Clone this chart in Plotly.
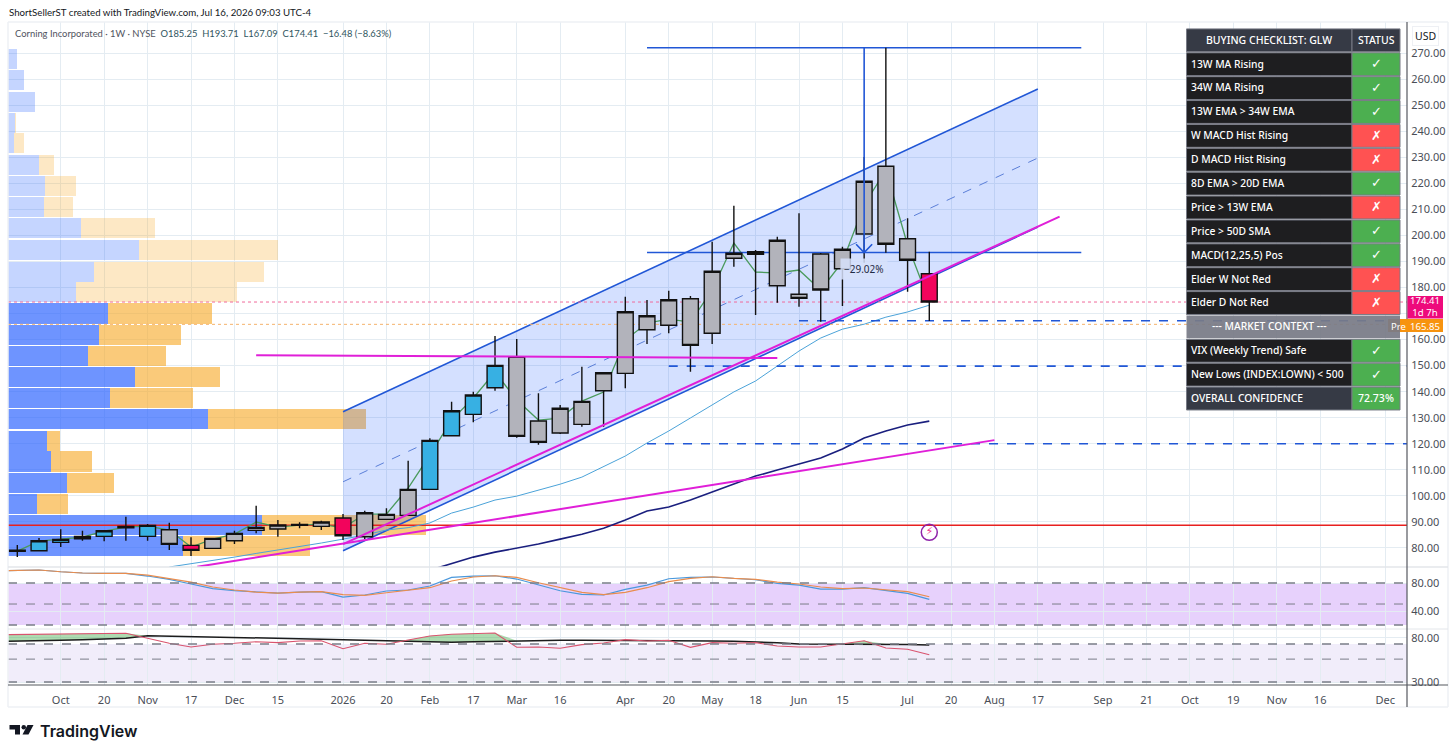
import plotly.graph_objects as go

# Weekly bars
week_dates = ["2025-09-22","2025-09-29","2025-10-06","2025-10-13","2025-10-20","2025-10-27","2025-11-03","2025-11-10",
              "2025-11-17","2025-11-24","2025-12-01","2025-12-08","2025-12-15","2025-12-22","2025-12-29","2026-01-05",
              "2026-01-12","2026-01-19","2026-01-26","2026-02-02","2026-02-09","2026-02-16","2026-02-23","2026-03-02",
              "2026-03-09","2026-03-16","2026-03-23","2026-03-30","2026-04-06","2026-04-13","2026-04-20","2026-04-27",
              "2026-05-04","2026-05-11","2026-05-18","2026-05-25","2026-06-01","2026-06-08","2026-06-15","2026-06-22",
              "2026-06-29","2026-07-06","2026-07-13"]
week_open = [78.74,78.94,82.16,83.54,84.46,88.31,84.46,86.99,81.0,79.85,82.78,86.77,87.26,89.07,88.31,91.49,
             84.31,90.99,92.52,102.51,123.09,131.3,141.51,153.18,128.73,124.12,127.46,140.36,147.04,163.78,165.47,
             175.68,162.4,191.19,193.73,180.67,177.37,192.84,187.2,200.52,226.51,198.71,185.25]
week_high = [81.12,83.82,87.15,86.61,86.88,92.0,89.19,89.68,84.08,83.8,86.61,96.21,90.72,89.84,90.46,93.02,
             94.29,95.21,113.49,122.09,136.14,139.98,161.36,160.21,139.36,134.87,149.57,147.54,176.45,175.18,178.75,
             176.72,197.56,211.38,194.38,199.48,208.46,193.22,195.64,230.08,272.04,206.55,193.71]
week_low = [76.52,78.82,80.36,82.78,82.55,82.78,82.78,79.2,76.9,79.6,81.5,85.61,84.31,87.53,86.88,83.04,
            83.42,90.72,92.52,102.51,123.09,128.23,140.36,122.32,119.63,123.74,126.54,126.54,141.28,158.29,162.39,
            147.65,158.29,187.96,169.42,174.15,172.61,166.85,172.88,189.5,193.34,178.36,167.09]
week_close = [79.13,82.78,83.31,84.46,86.61,87.76,88.69,81.39,79.09,83.69,85.61,87.92,88.81,88.69,89.95,84.69,
              93.53,92.91,102.51,121.32,132.68,138.71,150.11,122.86,120.55,133.61,136.29,147.27,170.69,169.16,175.3,
              157.79,186.2,193.11,192.73,198.1,175.83,179.02,194.65,220.75,196.56,190.42,174.41]
week_color = ["g","b","b","b","b","r","b","g","r","g","g","g","g","r","g","r",
              "g","g","g","b","b","b","b","g","g","g","g","g","g","g","g",
              "g","g","g","g","g","g","g","g","g","g","g","r"]
close_line = [78.82,82.66,83.43,84.2,86.5,88.03,88.42,86.88,80.35,83.43,85.35,89.95,88.03,88.8,89.18,87.65,
              93.03,93.03,103.01,115.68,129.11,137.56,147.54,136.79,129.11,129.88,136.41,139.86,159.82,166.35,167.88,
              166.73,179.02,197.06,185.93,185.55,186.7,179.02,189.77,211.65,225.09,196.3,174.41]
ma_light = [72.7,73.9,75.3,76.5,77.9,79.2,80.4,81.9,83.4,84.96,86.9,87.8,89.6,93.4,95.7,98.4,99.9,102.2,
            104.5,107.2,111.1,115.3,120.3,124.9,129.9,134.9,139.9,144.1,149.8,155.6,160.6,164,165.9,168.6,170.6,173.2]
ma_navy = [71.5,74,76.5,78.4,80,81.5,83.4,85.3,87.6,90.7,94.2,95.7,98.4,101.5,104.5,107.6,109.9,112.2,114.5,
           118,122.2,124.9,127.2,128.7]

# Volume profile, top row first
vp_price = [267.7,259.6,251.2,243.3,235.3,227,218.9,210.9,202.8,194.4,186.1,178.25,170,161.9,153.7,145.6,137.6,
            129.5,121,113.2,104.9,96.9,88.8,80.7]
vp_up = [9.3,16,27,7,6,31,37,36,73,131,86,68,100,91,80,127,102,200,39,43,59,29,254,175]
vp_down = [0,0,0,1,10,15,31,29,74,139,170,161,104,82,78,85,83,158,13,41,47,31,164,127]
vp_in_area = [False]*12 + [True]*12

# Drawings
channel_dates = ["2026-01-05","2026-08-17"]
channel_top = [132.3,256.2]
channel_mid = [105.4,229.7]
channel_bot = [78.9,203.2]
magenta_flat_dates = ["2025-12-08","2026-05-25"]
magenta_flat = [154.0,152.9]
magenta_upper_dates = ["2026-01-05","2026-08-24"]
magenta_upper = [81.5,207.2]
magenta_lower_dates = ["2025-11-19","2026-08-03"]
magenta_lower = [72.8,121.4]
measure_date = "2026-06-22"
measure_top = 272.04
measure_bottom = 193.4
measure_left_date = "2026-04-13"
measure_right_date = "2026-08-31"
dash_levels = [(167.2,"2026-06-01"),(149.8,"2026-04-20"),(120.0,"2026-04-13")]
red_level = 88.7
last_price = 174.41
pre_price = 165.85

# Lower panes
ind_dates = ["2025-09-15"] + week_dates
stoch_blue = [97.5,97.6,98.6,96.1,94.3,93.9,93.9,90,85.3,78.6,71.9,69,67.1,65.7,67.1,67.6,60,62.9,68.6,70,75.7,88.1,90,
              90.4,85.7,77.1,69,63.9,62.9,71,77.1,86.1,88.1,88.6,86.7,84.7,79.6,77.1,71.4,71.4,73.3,69.6,65.3,56.7]
stoch_orange = [97.5,97.6,98.6,96.1,94.3,93.9,93.9,91.4,86.7,81.4,74.3,70,67.1,65.7,67.1,67.6,63.3,62.4,66.1,70,73.3,82.9,88.6,
                90.4,88.1,80.4,73.9,66.7,63.3,66.7,73.3,81.9,86.7,89,86.7,85.3,81.4,78.6,74.3,71.9,72.9,70,67.6,60.4]
stoch_levels = [80,50,20]
slow_black = [76.0,76.25,76.7,77.4,78.1,78.9,79.7,82.6,82,81.5,80.8,80.5,80,79.7,79.2,78.6,78.1,77.4,76.9,76.3,75.8,75.1,75.7,76.3,
              76.9,77.4,77.4,77.4,77.4,77.4,77.4,77.4,76.9,76.6,76.3,75.8,74.5,73.2,73.2,73.2,73.2,73.2,72.6,72]
slow_red = [83.7,84,84.9,84.8,85,85.2,85.3,79.7,74,69.8,72.8,74,75.8,74.7,76.6,76.9,67.8,74,72.8,77.7,82.3,84.2,85.3,85.7,
            69.4,69.8,68.3,72.4,74.3,78.1,76.6,77.4,69.4,74.7,74,74.7,70.9,69.8,69.8,73.2,76.9,68.6,67.2,61]
slow_levels = [73.2,56,30]

# Axis labels, 170 is hidden behind the price tag
price_ticks = [80,90,100,110,120,130,140,150,160,170,180,190,200,210,220,230,240,250,260,270]
price_labels = ["80.00","90.00","100.00","110.00","120.00","130.00","140.00","150.00","160.00","",
                "180.00","190.00","200.00","210.00","220.00","230.00","240.00","250.00","260.00","270.00"]
date_tickvals = ["2025-10-06","2025-10-20","2025-11-03","2025-11-17","2025-12-01","2025-12-15","2026-01-05","2026-01-19",
                 "2026-02-02","2026-02-16","2026-03-02","2026-03-16","2026-04-06","2026-04-20","2026-05-04","2026-05-18",
                 "2026-06-01","2026-06-15","2026-07-06","2026-07-20","2026-08-03","2026-08-17","2026-09-07","2026-09-21",
                 "2026-10-05","2026-10-19","2026-11-02","2026-11-16","2026-12-07"]
date_ticktext = ["Oct","20","Nov","17","Dec","15","2026","20","Feb","17","Mar","16","Apr","20","May","18","Jun","15",
                 "Jul","20","Aug","17","Sep","21","Oct","19","Nov","16","Dec"]
date_range = ["2025-09-19","2026-12-14"]

# Checklist table
table_labels = ["13W MA Rising","34W MA Rising","13W EMA > 34W EMA","W MACD Hist Rising","D MACD Hist Rising",
                "8D EMA > 20D EMA","Price > 13W EMA","Price > 50D SMA","MACD(12,25,5) Pos","Elder W Not Red",
                "Elder D Not Red","--- MARKET CONTEXT ---","VIX (Weekly Trend) Safe","New Lows (INDEX:LOWN) < 500",
                "OVERALL CONFIDENCE"]
table_status = ["✓","✓","✓","✗","✗","✓","✗","✓","✓","✗","✗","","✓","✓","72.73%"]

W, H = 1456, 755
PLOT_L, PLOT_R = 8, 1407
def px(x): return x/W
def py(y): return 1-y/H

GREEN, RED, DARK, NAVY, GREY = "#4CAF50", "#FF5252", "#1E1E20", "#363A45", "#787B86"
BLUE = "#2157d6"
FONT = "Noto Sans"

fig = go.Figure()

# volume profile sits on the base axis so everything else draws above it
up_colors = ["rgba(41,98,255,0.68)" if a else "rgba(41,98,255,0.27)" for a in vp_in_area]
down_colors = ["rgba(247,170,40,0.62)" if a else "rgba(247,170,40,0.27)" for a in vp_in_area]
fig.add_trace(go.Bar(y=vp_price, x=vp_up, orientation="h", width=7.7, marker=dict(color=up_colors, line_width=0),
                     xaxis="x", yaxis="y"))
fig.add_trace(go.Bar(y=vp_price, x=vp_down, orientation="h", width=7.7, marker=dict(color=down_colors, line_width=0),
                     xaxis="x", yaxis="y"))

def line(x, y, color, width=1, dash="solid", **kw):
    fig.add_trace(go.Scatter(x=x, y=y, mode="lines", line=dict(color=color, width=width, dash=dash),
                             xaxis=kw.pop("xaxis","x2"), yaxis=kw.pop("yaxis","y"), **kw))

# below the candles
line(channel_dates, channel_bot, BLUE, 1.6)
line(channel_dates, channel_top, BLUE, 1.6, fill="tonexty", fillcolor="rgba(41,98,255,0.2)")
line(channel_dates, channel_mid, "#5b7fd8", 1, "dash")

line(date_range, [pre_price,pre_price], "#f5b26b", 1, "dot")
line(date_range, [last_price,last_price], "#f06a9b", 1, "dot")
line(date_range, [red_level,red_level], "#e8201f", 1.6)
line(week_dates[7:], ma_light, "#4ba3d9", 1)
line(week_dates[19:], ma_navy, "#1a1f7e", 1.6)
line(week_dates, close_line, "#4a9a5c", 1.3)
line([measure_left_date,measure_right_date], [measure_top,measure_top], BLUE, 1.6)
line([measure_left_date,measure_right_date], [measure_bottom,measure_bottom], BLUE, 1.6)
for level, start in dash_levels:
    line([start,date_range[1]], [level,level], BLUE, 1.6, "dash")

# candles, one trace per bar colour, on their own overlay so they cover the lines above
for key, col in (("g","#B2B3BB"),("b","#37B0E3"),("r","#F2045C")):
    idx = [i for i,c in enumerate(week_color) if c==key]
    fig.add_trace(go.Candlestick(
        x=[week_dates[i] for i in idx], open=[week_open[i] for i in idx], high=[week_high[i] for i in idx],
        low=[week_low[i] for i in idx], close=[week_close[i] for i in idx],
        increasing=dict(fillcolor=col, line=dict(color="#111111", width=1.4)),
        decreasing=dict(fillcolor=col, line=dict(color="#111111", width=1.4)),
        whiskerwidth=0, xaxis="x5", yaxis="y"))

line(magenta_flat_dates, magenta_flat, "#e01fd8", 2, xaxis="x5")
line(magenta_upper_dates, magenta_upper, "#e01fd8", 2, xaxis="x5")
line(magenta_lower_dates, magenta_lower, "#e01fd8", 2, xaxis="x5")
line([measure_date,measure_date], [measure_top,measure_bottom], BLUE, 1.6, xaxis="x5")
line(["2026-06-19 10:00",measure_date,"2026-06-24 14:00"], [196.6,measure_bottom,196.6], BLUE, 1.6, xaxis="x5")

# flash icon
fig.add_trace(go.Scatter(x=["2026-07-13"], y=[86.0], mode="markers+text", text=["⚡"], textposition="middle center",
                         textfont=dict(color="#ec2f8c", size=11, family="DejaVu Sans"),
                         marker=dict(size=16, color="rgba(255,255,255,0)", line=dict(color="#8e24aa", width=1.5)),
                         xaxis="x5", yaxis="y"))

# stochastic pane
line(ind_dates, stoch_blue, "#4a98dc", 1.2, xaxis="x3", yaxis="y2")
line(ind_dates, stoch_orange, "#e98d4e", 1.2, xaxis="x3", yaxis="y2")

# slow pane, green where red runs over black
slow_upper = [max(a,b) for a,b in zip(slow_red, slow_black)]
line(ind_dates, slow_black, "rgba(0,0,0,0)", 0.1, xaxis="x4", yaxis="y3")
fig.add_trace(go.Scatter(x=ind_dates, y=slow_upper, mode="lines", line=dict(color="rgba(0,0,0,0)", width=0.1),
                         fill="tonexty", fillcolor="rgba(76,175,80,0.45)", xaxis="x4", yaxis="y3"))
line(ind_dates, slow_black, "#1c1c1c", 1.5, xaxis="x4", yaxis="y3")
line(ind_dates, slow_red, "#d9536e", 1.1, xaxis="x4", yaxis="y3")

date_axis = dict(type="date", range=date_range, tickmode="array", tickvals=date_tickvals, showgrid=True,
                 gridcolor="#e4ecf2", gridwidth=1, zeroline=False, showline=False,
                 rangeslider=dict(visible=False), domain=[px(PLOT_L),px(PLOT_R)])

axis_font = dict(size=11, color="#4a4e57", family=FONT)
y_common = dict(side="right", showgrid=True, gridcolor="#e4ecf2", zeroline=False, showline=False, tickmode="array",
                ticks="outside", ticklen=1, tickcolor="rgba(0,0,0,0)", tickfont=axis_font, tickformat=".2f")

shapes = []
# band and level lines of the two lower panes
for y0,y1,col,yr in ((stoch_levels[2],stoch_levels[0],"rgba(176,102,245,0.3)","y2"),
                     (slow_levels[2],slow_levels[0],"rgba(149,117,220,0.13)","y3")):
    shapes.append(dict(type="rect", xref="paper", x0=px(PLOT_L), x1=px(PLOT_R), yref=yr, y0=y0, y1=y1,
                       fillcolor=col, line_width=0, layer="below"))
for levels,yr in ((stoch_levels,"y2"),(slow_levels,"y3")):
    for i,level in enumerate(levels):
        shapes.append(dict(type="line", xref="paper", x0=px(PLOT_L), x1=px(PLOT_R), yref=yr, y0=level, y1=level,
                           line=dict(color="#7a7d88", width=1.4 if i!=1 else 1, dash="dash")))
# pane frames
def rule(x0,y0,x1,y1,color,width=1):
    shapes.append(dict(type="line", xref="paper", yref="paper", x0=px(x0), x1=px(x1), y0=py(y0), y1=py(y1),
                       line=dict(color=color, width=width)))
rule(8,22,1448,22,"#eef0f4",1.5)
rule(8,22,8,707,"#eef0f4",1.5)
rule(8,707,1448,707,"#eef0f4",1.5)
rule(1448,22,1448,707,"#eef0f4",1.5)
rule(8,567,1448,567,"#e3e6ea",1.5)
rule(8,629,1448,629,"#e3e6ea",1)
rule(8,685,1448,685,"#55585f",1.2)
rule(1407,22,1407,707,"#55585f",1.2)

def box(x0,y0,x1,y1,fill,border=None):
    shapes.append(dict(type="rect", xref="paper", yref="paper", x0=px(x0), x1=px(x1), y0=py(y0), y1=py(y1),
                       fillcolor=fill, line=dict(color=border or fill, width=1 if border else 0)))

# TradingView logo
shapes.append(dict(type="path", xref="paper", yref="paper", line_width=0, fillcolor="#131722",
                   path="M %f %f L %f %f L %f %f L %f %f L %f %f L %f %f Z" % (px(9.5),py(725),px(20),py(725),px(20),py(734.5),
                                                                          px(15),py(734.5),px(15),py(729.5),px(9.5),py(729.5))))
shapes.append(dict(type="path", xref="paper", yref="paper", line_width=0, fillcolor="#131722",
                   path="M %f %f L %f %f L %f %f L %f %f Z" % (px(27.5),py(725),px(33.5),py(725),px(28.5),py(734.5),px(22.5),py(734.5))))
shapes.append(dict(type="circle", xref="paper", yref="paper", line_width=0, fillcolor="#131722",
                   x0=px(21.5), x1=px(26), y0=py(729.5), y1=py(725)))

def note(x, y, text, size=11, color="#333", anchor="left", family=FONT, weight=None, **kw):
    return dict(x=px(x), y=py(y), xref="paper", yref="paper", text=text, showarrow=False, xanchor=anchor,
                yanchor="middle", font=dict(size=size, color=color, family=family, weight=weight), **kw)

ohlc = '<span style="color:#2f5560">'
annotations = [
    note(7, 12, "ShortSellerST created with TradingView.com, Jul 16, 2026 09:03 UTC-4", 9.7, "#131722", family="Lato"),
    note(13, 33, 'Corning Incorporated · 1W · NYSE  ' + ohlc + 'O185.25  H193.71  L167.09  C174.41  −16.48 (−8.63%)</span>',
         9.4, "#50535e", family="Lato"),
    note(1425, 35.5, "USD", 10.5, "#131722", "center", bgcolor="white", bordercolor="#eef0f4", borderwidth=1, borderpad=2),
    note(38, 731, "TradingView", 16, "#131722", family="Inter", weight=600),
    dict(x=measure_date, y=187.2, xref="x5", yref="y", text="−29.02%", showarrow=False,
         font=dict(size=10, color="#1f2b45", family=FONT), bgcolor="rgba(214,224,250,0.85)", borderpad=3),
]

# price tags
box(1407.5,296,1443,318.5,"#EE0A7C")
box(1388,319,1443,332,"#F7930F")
annotations += [note(1425, 306.5, "174.41<br>1d 7h", 9.6, "white", "center", borderpad=0),
                note(1398, 326, "Pre", 9.5, "white", "center", borderpad=0),
                note(1425, 326, "165.85", 9.6, "white", "center", borderpad=0)]

# checklist panel, header then one row per label
TBL_L, TBL_M, TBL_R, TBL_TOP, ROW_H = 1186.5, 1352, 1400, 28.9, 23.88
box(TBL_L,TBL_TOP,TBL_M,TBL_TOP+ROW_H-1,NAVY,GREY)
box(TBL_M,TBL_TOP,TBL_R,TBL_TOP+ROW_H-1,NAVY,GREY)
annotations += [note((TBL_L+TBL_M)/2, TBL_TOP+10.8, "BUYING CHECKLIST: GLW", 10.5, "white", "center", weight=500),
                note((TBL_M+TBL_R)/2, TBL_TOP+10.8, "STATUS", 10.5, "white", "center", weight=500)]
for i,(label,status) in enumerate(zip(table_labels, table_status)):
    top = TBL_TOP + ROW_H*(i+1)
    mid = top + 10.8
    if status == "":
        box(TBL_L,top,TBL_R,top+ROW_H-1,"rgba(120,123,134,0.93)")
        annotations.append(note((TBL_L+TBL_M)/2, mid, label, 10.3, "white", "center", weight=500))
        continue
    box(TBL_L,top,TBL_M,top+ROW_H-1,NAVY if status not in ("✓","✗") else DARK,GREY)
    box(TBL_M,top,TBL_R,top+ROW_H-1,RED if status=="✗" else GREEN,GREY)
    annotations.append(note(TBL_L+2.5, mid, label, 10.3, "white", weight=500))
    if status in ("✓","✗"):
        annotations.append(note((TBL_M+TBL_R)/2, mid, status, 13, "white", "center", family="DejaVu Sans", weight=700))
    else:
        annotations.append(note((TBL_M+TBL_R)/2, mid, status, 10.5, "white", "center", weight=500))

fig.update_layout(
    width=W, height=H, margin=dict(l=0,r=0,t=0,b=0,autoexpand=False), paper_bgcolor="white", plot_bgcolor="rgba(0,0,0,0)",
    showlegend=False, barmode="stack", bargap=0, boxmode="overlay", boxgap=0.27, boxgroupgap=0, hovermode=False,
    shapes=shapes, annotations=annotations,
    xaxis=dict(domain=[px(PLOT_L),px(PLOT_R)], range=[0,PLOT_R-PLOT_L], visible=False, anchor="y", fixedrange=True),
    xaxis2=dict(date_axis, overlaying="x", anchor="y", showticklabels=False, ticks=""),
    xaxis3=dict(date_axis, anchor="y2", showticklabels=False, ticks=""),
    xaxis4=dict(date_axis, anchor="y3", ticktext=date_ticktext, showticklabels=True, tickfont=axis_font, tickangle=0,
                ticks="outside", ticklen=5, tickcolor="rgba(0,0,0,0)"),
    xaxis5=dict(date_axis, overlaying="x", anchor="y", showticklabels=False, ticks="", showgrid=False),
    yaxis=dict(y_common, domain=[py(567),py(22)], range=[72.7,281.9], anchor="x", tickvals=price_ticks, ticktext=price_labels),
    yaxis2=dict(y_common, domain=[py(629),py(567)], range=[14.3,102.9], anchor="x3", tickvals=[80,40]),
    yaxis3=dict(y_common, domain=[py(685),py(629)], range=[26.6,90.2], anchor="x4", tickvals=[80,30]),
)

fig.write_html("out.html", config=dict(displayModeBar=False),
               post_script="document.body.style.margin='0';document.body.style.overflow='hidden';")
